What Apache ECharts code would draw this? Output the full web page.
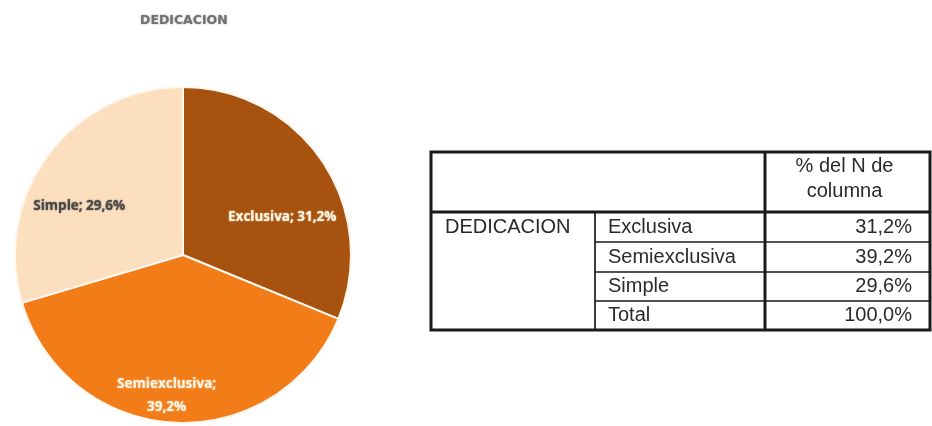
<!DOCTYPE html>
<html>
<head>
<meta charset="utf-8">
<script src="https://cdn.jsdelivr.net/npm/echarts@6/dist/echarts.min.js"></script>
<style>
  html, body { margin: 0; padding: 0; background: #ffffff; }
  #chart { width: 932px; height: 426px; }
</style>
</head>
<body>
<div id="chart"></div>
<script>
// Distribución por dedicación (% del N de columna)
const chartTitle = 'DEDICACION';
const categories = ['Exclusiva', 'Semiexclusiva', 'Simple'];
const shares = [31.2, 39.2, 29.6];
const sliceColors = ['#A7520E', '#F27C18', '#FCDFBF'];
const labelColors = ['#FFF3E0', '#FFF3E0', '#4A4A4A'];

// Tabla de frecuencias
const tableVariable = 'DEDICACION';
const tableHeader = ['% del N de', 'columna'];
const tableRows = ['Exclusiva', 'Semiexclusiva', 'Simple', 'Total'];
const tableValues = [31.2, 39.2, 29.6, 100.0];

const fmtPct = v => v.toFixed(1).replace('.', ',') + '%';

// label nudges relative to the default inside position
const labelOffsets = [[27, 11], [-12, 54], [-34, 3]];

// table layout
const colX = [431, 595, 765, 930];
const rowY = [152, 212, 242, 272, 301, 330];
const tableFont = '"Liberation Sans", Arial, sans-serif';

const graphics = [];
const line = (x1, y1, x2, y2, w) => graphics.push({
  type: 'line', shape: { x1, y1, x2, y2 },
  style: { stroke: '#1a1a1a', lineWidth: w }
});
const text = (str, x, y, align) => graphics.push({
  type: 'text', x, y,
  style: {
    text: str, fill: '#2a2a2a', font: '20px ' + tableFont,
    textAlign: align, textVerticalAlign: 'middle'
  }
});

// outer frame and main dividers
graphics.push({
  type: 'rect',
  shape: { x: colX[0], y: rowY[0], width: colX[3] - colX[0], height: rowY[5] - rowY[0] },
  style: { fill: 'none', stroke: '#1a1a1a', lineWidth: 3 }
});
line(colX[0], rowY[1], colX[3], rowY[1], 3);
line(colX[2], rowY[0], colX[2], rowY[5], 3);
line(colX[1], rowY[1], colX[1], rowY[5], 1.7);
for (let i = 2; i < rowY.length - 1; i++) line(colX[1], rowY[i], colX[3], rowY[i], 1.7);

// header
const headCx = (colX[2] + colX[3]) / 2;
text(tableHeader[0], headCx - 3, 166, 'center');
text(tableHeader[1], headCx - 3, 191, 'center');

// body
text(tableVariable, colX[0] + 14, (rowY[1] + rowY[2]) / 2, 'left');
tableRows.forEach((name, i) => {
  const cy = (rowY[i + 1] + rowY[i + 2]) / 2;
  text(name, colX[1] + 13, cy, 'left');
  text(fmtPct(tableValues[i]), colX[3] - 18, cy, 'right');
});

const chart = echarts.init(document.getElementById('chart'));
chart.setOption({
  backgroundColor: '#ffffff',
  animation: false,
  title: {
    text: chartTitle,
    left: 135, top: 9,
    textStyle: {
      fontFamily: '"DejaVu Sans", sans-serif', fontSize: 12.5, fontWeight: 'bold',
      color: '#707070', textShadowColor: 'rgba(110,110,110,0.6)', textShadowBlur: 2
    }
  },
  series: [{
    type: 'pie',
    center: [183, 255],
    radius: 168,
    startAngle: 90,
    clockwise: true,
    silent: true,
    itemStyle: { borderColor: '#fff6ee', borderWidth: 2 },
    label: {
      show: true,
      position: 'inside',
      fontFamily: '"Open Sans", sans-serif',
      fontSize: 13.5,
      fontWeight: 'bold',
      lineHeight: 23,
      textShadowBlur: 1.5
    },
    labelLine: { show: false },
    data: categories.map((name, i) => ({
      name,
      value: shares[i],
      itemStyle: { color: sliceColors[i] },
      label: {
        color: labelColors[i],
        textShadowColor: labelColors[i],
        offset: labelOffsets[i],
        formatter: name === 'Semiexclusiva'
          ? name + ';\n' + fmtPct(shares[i])
          : name + '; ' + fmtPct(shares[i])
      }
    }))
  }],
  graphic: graphics
});
</script>
</body>
</html>
